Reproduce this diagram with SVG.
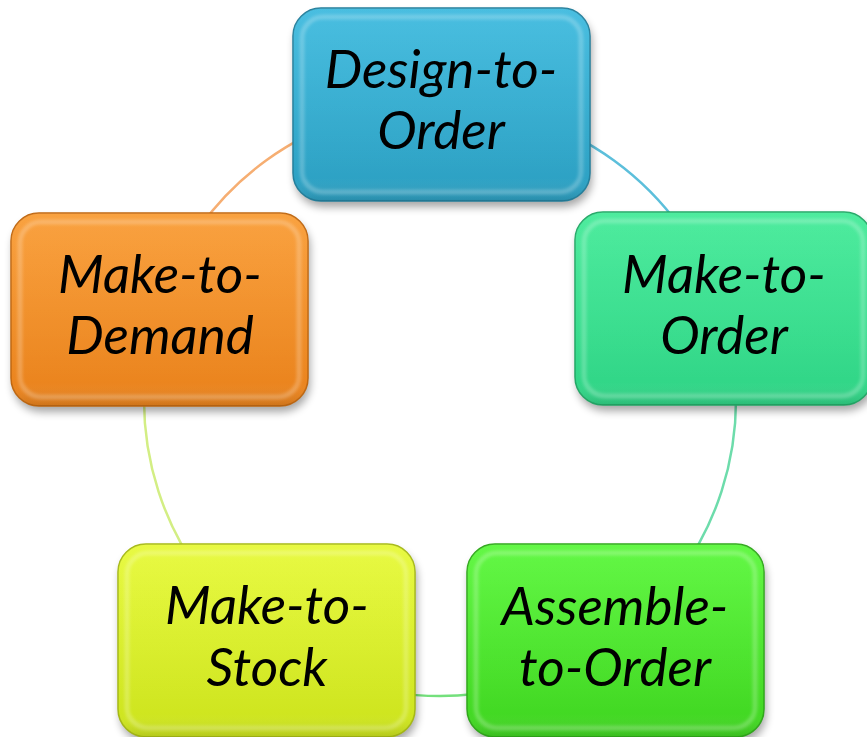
<svg xmlns="http://www.w3.org/2000/svg" width="867" height="737" viewBox="0 0 867 737">
  <defs>
    <style>
      .arc { fill: none; stroke-width: 2.5; }
      .shadow { fill: #000; opacity: 0.35; filter: url(#soft); }
      .body { stroke-width: 1.5; }
      .bevel { fill: none; stroke: #fff; stroke-opacity: 0.22; stroke-width: 5; filter: url(#haze); }
      .gloss { fill: url(#edge); }
      .label { font-family: "Lato", "Open Sans", sans-serif; font-style: italic; font-size: 53px; fill: #000; text-anchor: middle; }
    </style>
    <filter id="soft" x="-10%" y="-10%" width="120%" height="130%">
      <feGaussianBlur stdDeviation="4"/>
    </filter>
    <filter id="haze" x="-5%" y="-5%" width="110%" height="110%">
      <feGaussianBlur stdDeviation="1.5"/>
    </filter>
    <!-- side highlight / bottom shade shared by all boxes -->
    <linearGradient id="edge" x1="0" y1="0" x2="0" y2="1">
      <stop offset="0" stop-color="#fff" stop-opacity="0.08"/>
      <stop offset="0.88" stop-color="#fff" stop-opacity="0"/>
      <stop offset="1" stop-color="#000" stop-opacity="0.12"/>
    </linearGradient>
    <linearGradient id="gBlue" x1="0" y1="0" x2="0" y2="1">
      <stop offset="0" stop-color="#3ab9de"/>
      <stop offset="1" stop-color="#2c9fc1"/>
    </linearGradient>
    <linearGradient id="gTeal" x1="0" y1="0" x2="0" y2="1">
      <stop offset="0" stop-color="#3fea96"/>
      <stop offset="1" stop-color="#30d486"/>
    </linearGradient>
    <linearGradient id="gGreen" x1="0" y1="0" x2="0" y2="1">
      <stop offset="0" stop-color="#56f736"/>
      <stop offset="1" stop-color="#40d521"/>
    </linearGradient>
    <linearGradient id="gLime" x1="0" y1="0" x2="0" y2="1">
      <stop offset="0" stop-color="#e6f933"/>
      <stop offset="1" stop-color="#cce31d"/>
    </linearGradient>
    <linearGradient id="gOrange" x1="0" y1="0" x2="0" y2="1">
      <stop offset="0" stop-color="#f99a30"/>
      <stop offset="1" stop-color="#e9821c"/>
    </linearGradient>
  </defs>

  <rect width="867" height="737" fill="#fff"/>

  <!-- cycle connectors: arcs of one circle, centre (440,400), r 296 -->
  <g id="connectors">
    <path class="arc" stroke="#5cbfdb" d="M 440 104 A 296 296 0 0 1 721.5 308.5"/>
    <path class="arc" stroke="#6ddcab" d="M 721.5 308.5 A 296 296 0 0 1 614 639.5"/>
    <path class="arc" stroke="#74e07c" d="M 614 639.5 A 296 296 0 0 1 266 639.5"/>
    <path class="arc" stroke="#d3ee84" d="M 266 639.5 A 296 296 0 0 1 158.5 308.5"/>
    <path class="arc" stroke="#f6ae72" d="M 158.5 308.5 A 296 296 0 0 1 440 104"/>
  </g>

  <g id="design-to-order">
    <rect class="shadow" x="295" y="14" width="297" height="193" rx="28"/>
    <rect class="body" x="293" y="8" width="297" height="193" rx="28" fill="url(#gBlue)" stroke="#237f9c"/>
    <rect class="gloss" x="293" y="8" width="297" height="193" rx="28"/>
    <rect class="bevel" x="302" y="17" width="279" height="175" rx="21"/>
    <text class="label" x="441" y="88">Design-to-</text>
    <text class="label" x="441" y="149">Order</text>
  </g>

  <g id="make-to-order">
    <rect class="shadow" x="577" y="218" width="297" height="193" rx="28"/>
    <rect class="body" x="575" y="212" width="297" height="193" rx="28" fill="url(#gTeal)" stroke="#22a866"/>
    <rect class="gloss" x="575" y="212" width="297" height="193" rx="28"/>
    <rect class="bevel" x="584" y="221" width="279" height="175" rx="21"/>
    <text class="label" x="724" y="293">Make-to-</text>
    <text class="label" x="724" y="354">Order</text>
  </g>

  <g id="assemble-to-order">
    <rect class="shadow" x="469" y="550" width="297" height="193" rx="28"/>
    <rect class="body" x="467" y="544" width="297" height="193" rx="28" fill="url(#gGreen)" stroke="#2fa81a"/>
    <rect class="gloss" x="467" y="544" width="297" height="193" rx="28"/>
    <rect class="bevel" x="476" y="553" width="279" height="175" rx="21"/>
    <text class="label" x="615" y="625">Assemble-</text>
    <text class="label" x="615" y="686">to-Order</text>
  </g>

  <g id="make-to-stock">
    <rect class="shadow" x="120" y="550" width="297" height="193" rx="28"/>
    <rect class="body" x="118" y="544" width="297" height="193" rx="28" fill="url(#gLime)" stroke="#a6b914"/>
    <rect class="gloss" x="118" y="544" width="297" height="193" rx="28"/>
    <rect class="bevel" x="127" y="553" width="279" height="175" rx="21"/>
    <text class="label" x="267" y="624">Make-to-</text>
    <text class="label" x="267" y="686">Stock</text>
  </g>

  <g id="make-to-demand">
    <rect class="shadow" x="13" y="219" width="297" height="193" rx="28"/>
    <rect class="body" x="11" y="213" width="297" height="193" rx="28" fill="url(#gOrange)" stroke="#c0670f"/>
    <rect class="gloss" x="11" y="213" width="297" height="193" rx="28"/>
    <rect class="bevel" x="20" y="222" width="279" height="175" rx="21"/>
    <text class="label" x="160" y="293">Make-to-</text>
    <text class="label" x="160" y="354">Demand</text>
  </g>
</svg>
